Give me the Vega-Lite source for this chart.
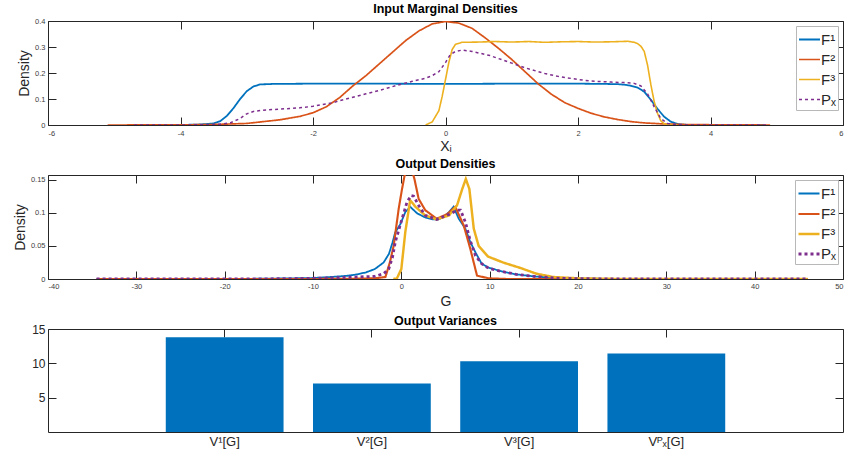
{
  "$schema": "https://vega.github.io/schema/vega-lite/v6.json",
  "padding": {"left": 13, "top": 2, "right": 14, "bottom": 5},
  "background": "white",
  "config": {
    "view": {"stroke": null},
    "font": "Liberation Sans",
    "title": {"font": "Liberation Sans", "fontSize": 12.5, "fontWeight": "bold", "color": "#000000", "offset": 4},
    "axis": {
      "grid": false, "domainColor": "#262626", "tickColor": "#262626", "labelColor": "#404040",
      "titleColor": "#262626", "labelFont": "Liberation Sans", "titleFont": "Liberation Sans",
      "titleFontWeight": "normal", "titleFontSize": 14, "labelFontSize": 7.5,
      "tickSize": -8, "labelPadding": 11, "domainWidth": 1, "tickWidth": 1
    },
    "legend": {
      "orient": "top-right", "offset": 5, "title": null, "symbolType": "stroke", "symbolSize": 441,
      "labelFontSize": 15, "labelFont": "Liberation Sans", "labelColor": "#262626",
      "fillColor": "white", "strokeColor": "#b8b8b8", "padding": 2, "rowPadding": 0, "labelOffset": 0
    }
  },
  "datasets": {
    "top": [
      {"s":"F¹","x":-4.7,"y":0},{"s":"F¹","x":-4.0,"y":0},{"s":"F¹","x":-3.7,"y":0.002},{"s":"F¹","x":-3.5,"y":0.006},{"s":"F¹","x":-3.4,"y":0.015},{"s":"F¹","x":-3.3,"y":0.035},{"s":"F¹","x":-3.2,"y":0.065},{"s":"F¹","x":-3.1,"y":0.1},{"s":"F¹","x":-3.0,"y":0.13},{"s":"F¹","x":-2.9,"y":0.148},{"s":"F¹","x":-2.8,"y":0.156},{"s":"F¹","x":-2.6,"y":0.158},{"s":"F¹","x":-2.0,"y":0.159},{"s":"F¹","x":-1.0,"y":0.159},{"s":"F¹","x":0,"y":0.158},{"s":"F¹","x":1.0,"y":0.159},{"s":"F¹","x":2.0,"y":0.159},{"s":"F¹","x":2.4,"y":0.158},{"s":"F¹","x":2.6,"y":0.157},{"s":"F¹","x":2.7,"y":0.155},{"s":"F¹","x":2.8,"y":0.151},{"s":"F¹","x":2.9,"y":0.144},{"s":"F¹","x":3.0,"y":0.128},{"s":"F¹","x":3.1,"y":0.097},{"s":"F¹","x":3.2,"y":0.062},{"s":"F¹","x":3.3,"y":0.032},{"s":"F¹","x":3.4,"y":0.013},{"s":"F¹","x":3.5,"y":0.004},{"s":"F¹","x":3.6,"y":0.001},{"s":"F¹","x":3.8,"y":0},{"s":"F¹","x":4.8,"y":0},
      {"s":"F²","x":-5.1,"y":0},{"s":"F²","x":-4.5,"y":0.0002},{"s":"F²","x":-4.0,"y":0.0005},{"s":"F²","x":-3.5,"y":0.002},{"s":"F²","x":-3.0,"y":0.006},{"s":"F²","x":-2.5,"y":0.02},{"s":"F²","x":-2.2,"y":0.033},{"s":"F²","x":-2.0,"y":0.047},{"s":"F²","x":-1.8,"y":0.07},{"s":"F²","x":-1.6,"y":0.105},{"s":"F²","x":-1.4,"y":0.15},{"s":"F²","x":-1.2,"y":0.19},{"s":"F²","x":-1.0,"y":0.235},{"s":"F²","x":-0.8,"y":0.28},{"s":"F²","x":-0.6,"y":0.325},{"s":"F²","x":-0.4,"y":0.362},{"s":"F²","x":-0.2,"y":0.389},{"s":"F²","x":0,"y":0.398},{"s":"F²","x":0.2,"y":0.392},{"s":"F²","x":0.4,"y":0.372},{"s":"F²","x":0.6,"y":0.335},{"s":"F²","x":0.8,"y":0.295},{"s":"F²","x":1.0,"y":0.252},{"s":"F²","x":1.2,"y":0.205},{"s":"F²","x":1.4,"y":0.158},{"s":"F²","x":1.6,"y":0.118},{"s":"F²","x":1.8,"y":0.086},{"s":"F²","x":2.0,"y":0.064},{"s":"F²","x":2.2,"y":0.045},{"s":"F²","x":2.4,"y":0.031},{"s":"F²","x":2.6,"y":0.021},{"s":"F²","x":2.8,"y":0.013},{"s":"F²","x":3.0,"y":0.008},{"s":"F²","x":3.3,"y":0.004},{"s":"F²","x":3.6,"y":0.002},{"s":"F²","x":4.0,"y":0.001},{"s":"F²","x":4.5,"y":0.0002},{"s":"F²","x":4.9,"y":0},
      {"s":"F³","x":-0.3,"y":0},{"s":"F³","x":-0.2,"y":0.012},{"s":"F³","x":-0.1,"y":0.055},{"s":"F³","x":-0.05,"y":0.11},{"s":"F³","x":0,"y":0.175},{"s":"F³","x":0.05,"y":0.24},{"s":"F³","x":0.1,"y":0.29},{"s":"F³","x":0.15,"y":0.31},{"s":"F³","x":0.25,"y":0.318},{"s":"F³","x":0.5,"y":0.319},{"s":"F³","x":0.75,"y":0.321},{"s":"F³","x":1.0,"y":0.319},{"s":"F³","x":1.25,"y":0.321},{"s":"F³","x":1.5,"y":0.318},{"s":"F³","x":1.75,"y":0.32},{"s":"F³","x":2.0,"y":0.321},{"s":"F³","x":2.25,"y":0.319},{"s":"F³","x":2.5,"y":0.32},{"s":"F³","x":2.75,"y":0.322},{"s":"F³","x":2.85,"y":0.318},{"s":"F³","x":2.9,"y":0.313},{"s":"F³","x":2.95,"y":0.303},{"s":"F³","x":3.0,"y":0.283},{"s":"F³","x":3.05,"y":0.23},{"s":"F³","x":3.1,"y":0.155},{"s":"F³","x":3.15,"y":0.09},{"s":"F³","x":3.2,"y":0.045},{"s":"F³","x":3.25,"y":0.016},{"s":"F³","x":3.3,"y":0.005},{"s":"F³","x":3.4,"y":0},{"s":"F³","x":3.5,"y":0},
      {"s":"Pₓ","x":-4.7,"y":0},{"s":"Pₓ","x":-4.0,"y":0},{"s":"Pₓ","x":-3.6,"y":0.001},{"s":"Pₓ","x":-3.4,"y":0.003},{"s":"Pₓ","x":-3.25,"y":0.008},{"s":"Pₓ","x":-3.1,"y":0.025},{"s":"Pₓ","x":-3.0,"y":0.043},{"s":"Pₓ","x":-2.9,"y":0.052},{"s":"Pₓ","x":-2.8,"y":0.056},{"s":"Pₓ","x":-2.7,"y":0.058},{"s":"Pₓ","x":-2.5,"y":0.061},{"s":"Pₓ","x":-2.2,"y":0.066},{"s":"Pₓ","x":-2.0,"y":0.072},{"s":"Pₓ","x":-1.7,"y":0.086},{"s":"Pₓ","x":-1.5,"y":0.1},{"s":"Pₓ","x":-1.2,"y":0.12},{"s":"Pₓ","x":-1.0,"y":0.133},{"s":"Pₓ","x":-0.7,"y":0.155},{"s":"Pₓ","x":-0.5,"y":0.168},{"s":"Pₓ","x":-0.3,"y":0.18},{"s":"Pₓ","x":-0.2,"y":0.19},{"s":"Pₓ","x":-0.1,"y":0.205},{"s":"Pₓ","x":0,"y":0.24},{"s":"Pₓ","x":0.07,"y":0.27},{"s":"Pₓ","x":0.15,"y":0.283},{"s":"Pₓ","x":0.25,"y":0.288},{"s":"Pₓ","x":0.4,"y":0.283},{"s":"Pₓ","x":0.67,"y":0.267},{"s":"Pₓ","x":1.0,"y":0.238},{"s":"Pₓ","x":1.2,"y":0.22},{"s":"Pₓ","x":1.5,"y":0.198},{"s":"Pₓ","x":1.7,"y":0.187},{"s":"Pₓ","x":2.0,"y":0.175},{"s":"Pₓ","x":2.2,"y":0.169},{"s":"Pₓ","x":2.5,"y":0.165},{"s":"Pₓ","x":2.7,"y":0.163},{"s":"Pₓ","x":2.85,"y":0.16},{"s":"Pₓ","x":2.95,"y":0.15},{"s":"Pₓ","x":3.05,"y":0.12},{"s":"Pₓ","x":3.15,"y":0.07},{"s":"Pₓ","x":3.25,"y":0.025},{"s":"Pₓ","x":3.35,"y":0.006},{"s":"Pₓ","x":3.5,"y":0.001},{"s":"Pₓ","x":3.7,"y":0},{"s":"Pₓ","x":4.87,"y":0}
    ],
    "mid": [
      {"s":"F¹","x":-34.5,"y":0},{"s":"F¹","x":-20,"y":0},{"s":"F¹","x":-15,"y":0.0005},{"s":"F¹","x":-10,"y":0.0015},{"s":"F¹","x":-8,"y":0.003},{"s":"F¹","x":-6,"y":0.005},{"s":"F¹","x":-5,"y":0.007},{"s":"F¹","x":-4,"y":0.01},{"s":"F¹","x":-3,"y":0.015},{"s":"F¹","x":-2,"y":0.025},{"s":"F¹","x":-1.4,"y":0.038},{"s":"F¹","x":-1,"y":0.055},{"s":"F¹","x":-0.7,"y":0.07},{"s":"F¹","x":-0.1,"y":0.083},{"s":"F¹","x":0.45,"y":0.101},{"s":"F¹","x":1.0,"y":0.109},{"s":"F¹","x":1.8,"y":0.099},{"s":"F¹","x":2.7,"y":0.093},{"s":"F¹","x":3.5,"y":0.09},{"s":"F¹","x":4.2,"y":0.09},{"s":"F¹","x":4.8,"y":0.094},{"s":"F¹","x":5.4,"y":0.101},{"s":"F¹","x":5.9,"y":0.109},{"s":"F¹","x":6.2,"y":0.1},{"s":"F¹","x":6.5,"y":0.091},{"s":"F¹","x":7.25,"y":0.076},{"s":"F¹","x":7.8,"y":0.056},{"s":"F¹","x":8.4,"y":0.04},{"s":"F¹","x":9.1,"y":0.023},{"s":"F¹","x":9.9,"y":0.017},{"s":"F¹","x":11.5,"y":0.011},{"s":"F¹","x":13,"y":0.007},{"s":"F¹","x":15,"y":0.004},{"s":"F¹","x":17,"y":0.002},{"s":"F¹","x":20,"y":0.0007},{"s":"F¹","x":25,"y":0},{"s":"F¹","x":46,"y":0},
      {"s":"F²","x":-34.5,"y":0},{"s":"F²","x":-10,"y":0},{"s":"F²","x":-5,"y":0.0005},{"s":"F²","x":-3,"y":0.001},{"s":"F²","x":-1.8,"y":0.003},{"s":"F²","x":-1.3,"y":0.025},{"s":"F²","x":-0.87,"y":0.05},{"s":"F²","x":-0.3,"y":0.106},{"s":"F²","x":0.08,"y":0.136},{"s":"F²","x":0.35,"y":0.155},{"s":"F²","x":0.8,"y":0.172},{"s":"F²","x":1.2,"y":0.165},{"s":"F²","x":1.5,"y":0.15},{"s":"F²","x":1.96,"y":0.121},{"s":"F²","x":2.7,"y":0.104},{"s":"F²","x":4.0,"y":0.091},{"s":"F²","x":5.2,"y":0.098},{"s":"F²","x":6.1,"y":0.109},{"s":"F²","x":7.06,"y":0.081},{"s":"F²","x":7.8,"y":0.046},{"s":"F²","x":8.57,"y":0.005},{"s":"F²","x":9.9,"y":0.001},{"s":"F²","x":12,"y":0},{"s":"F²","x":46,"y":0},
      {"s":"F³","x":-0.9,"y":0},{"s":"F³","x":-0.5,"y":0.001},{"s":"F³","x":0,"y":0.015},{"s":"F³","x":0.45,"y":0.071},{"s":"F³","x":1.0,"y":0.119},{"s":"F³","x":1.6,"y":0.109},{"s":"F³","x":2.7,"y":0.096},{"s":"F³","x":4.0,"y":0.09},{"s":"F³","x":5.4,"y":0.096},{"s":"F³","x":6.3,"y":0.111},{"s":"F³","x":6.9,"y":0.136},{"s":"F³","x":7.3,"y":0.151},{"s":"F³","x":7.7,"y":0.136},{"s":"F³","x":8.2,"y":0.076},{"s":"F³","x":8.75,"y":0.05},{"s":"F³","x":9.8,"y":0.034},{"s":"F³","x":11.5,"y":0.025},{"s":"F³","x":13.4,"y":0.017},{"s":"F³","x":15.3,"y":0.008},{"s":"F³","x":17.2,"y":0.003},{"s":"F³","x":20,"y":0.001},{"s":"F³","x":25,"y":0},{"s":"F³","x":46,"y":0},
      {"s":"Pₓ","x":-34.5,"y":0},{"s":"Pₓ","x":-15,"y":0.0003},{"s":"Pₓ","x":-10,"y":0.001},{"s":"Pₓ","x":-7,"y":0.002},{"s":"Pₓ","x":-5,"y":0.003},{"s":"Pₓ","x":-3,"y":0.004},{"s":"Pₓ","x":-2,"y":0.008},{"s":"Pₓ","x":-1.43,"y":0.015},{"s":"Pₓ","x":-1.0,"y":0.033},{"s":"Pₓ","x":-0.68,"y":0.056},{"s":"Pₓ","x":0.08,"y":0.091},{"s":"Pₓ","x":0.64,"y":0.116},{"s":"Pₓ","x":1.1,"y":0.126},{"s":"Pₓ","x":1.4,"y":0.125},{"s":"Pₓ","x":1.96,"y":0.111},{"s":"Pₓ","x":2.7,"y":0.096},{"s":"Pₓ","x":4.0,"y":0.09},{"s":"Pₓ","x":5.5,"y":0.098},{"s":"Pₓ","x":6.3,"y":0.104},{"s":"Pₓ","x":6.7,"y":0.104},{"s":"Pₓ","x":7.25,"y":0.086},{"s":"Pₓ","x":7.8,"y":0.058},{"s":"Pₓ","x":8.4,"y":0.035},{"s":"Pₓ","x":9.1,"y":0.023},{"s":"Pₓ","x":9.9,"y":0.016},{"s":"Pₓ","x":11.5,"y":0.011},{"s":"Pₓ","x":13,"y":0.007},{"s":"Pₓ","x":15,"y":0.004},{"s":"Pₓ","x":18,"y":0.001},{"s":"Pₓ","x":20,"y":0.0005},{"s":"Pₓ","x":25,"y":0},{"s":"Pₓ","x":46,"y":0}
    ],
    "bars": [
      {"v":"V¹[G]","var":13.8},{"v":"V²[G]","var":7.05},{"v":"V³[G]","var":10.3},{"v":"Vᴾₓ[G]","var":11.45}
    ]
  },
  "spacing": 50,
  "bounds": "flush",
  "resolve": {
    "scale": {"x": "independent", "y": "independent", "color": "independent", "strokeDash": "independent", "strokeWidth": "independent"},
    "legend": {"color": "independent", "strokeDash": "independent", "strokeWidth": "independent"}
  },
  "vconcat": [
    {
      "width": 795, "height": 104,
      "title": {"text": "Input Marginal Densities", "offset": 2},
      "data": {"name": "top"},
      "layer": [
        {
          "mark": {"type": "line", "clip": true},
          "encoding": {
            "x": {"field": "x", "type": "quantitative", "scale": {"domain": [-6, 6], "nice": false, "zero": false},
                  "axis": {"orient": "bottom", "values": [-6, -4, -2, 0, 2, 4, 6], "labelExpr": "datum.value + ''", "labelPadding": 12, "title": "Xᵢ", "titlePadding": 3}},
            "y": {"field": "y", "type": "quantitative", "scale": {"domain": [0, 0.4], "nice": false},
                  "axis": {"orient": "left", "values": [0, 0.1, 0.2, 0.3, 0.4], "labelExpr": "datum.value + ''", "title": "Density", "titlePadding": 3}},
            "color": {"field": "s", "type": "nominal", "scale": {"domain": ["F¹", "F²", "F³", "Pₓ"], "range": ["#0072BD", "#D95319", "#EDB120", "#7E2F8E"]}},
            "strokeDash": {"field": "s", "type": "nominal", "scale": {"domain": ["F¹", "F²", "F³", "Pₓ"], "range": [[1, 0], [1, 0], [1, 0], [3, 3]]}},
            "strokeWidth": {"field": "s", "type": "nominal", "scale": {"domain": ["F¹", "F²", "F³", "Pₓ"], "range": [1.8, 1.5, 1.5, 3]}}
          }
        },
        {
          "mark": {"type": "point", "opacity": 0},
          "encoding": {
            "x": {"field": "x", "type": "quantitative", "scale": {"domain": [-6, 6], "nice": false, "zero": false},
                  "axis": {"orient": "top", "values": [-6, -4, -2, 0, 2, 4, 6], "labels": false, "labelPadding": 0, "title": null}},
            "y": {"field": "y", "type": "quantitative", "scale": {"domain": [0, 0.4], "nice": false},
                  "axis": {"orient": "right", "values": [0, 0.1, 0.2, 0.3, 0.4], "labels": false, "labelPadding": 0, "title": null}}
          }
        }
      ]
    },
    {
      "width": 795, "height": 104,
      "title": {"text": "Output Densities", "offset": -8},
      "data": {"name": "mid"},
      "layer": [
        {
          "mark": {"type": "line", "clip": true},
          "encoding": {
            "x": {"field": "x", "type": "quantitative", "scale": {"domain": [-40, 50], "nice": false, "zero": false},
                  "axis": {"orient": "bottom", "values": [-40, -30, -20, -10, 0, 10, 20, 30, 40, 50], "labelExpr": "datum.value + ''", "title": "G", "titlePadding": 5}},
            "y": {"field": "y", "type": "quantitative", "scale": {"domain": [0, 0.157], "nice": false},
                  "axis": {"orient": "left", "values": [0, 0.05, 0.1, 0.15], "labelExpr": "datum.value + ''", "title": "Density", "titlePadding": 3}},
            "color": {"field": "s", "type": "nominal", "scale": {"domain": ["F¹", "F²", "F³", "Pₓ"], "range": ["#0072BD", "#D95319", "#EDB120", "#7E2F8E"]}},
            "strokeDash": {"field": "s", "type": "nominal", "scale": {"domain": ["F¹", "F²", "F³", "Pₓ"], "range": [[1, 0], [1, 0], [1, 0], [3, 3]]}},
            "strokeWidth": {"field": "s", "type": "nominal", "scale": {"domain": ["F¹", "F²", "F³", "Pₓ"], "range": [1.8, 2.8, 2.8, 3]}}
          }
        },
        {
          "mark": {"type": "point", "opacity": 0},
          "encoding": {
            "x": {"field": "x", "type": "quantitative", "scale": {"domain": [-40, 50], "nice": false, "zero": false},
                  "axis": {"orient": "top", "values": [-40, -30, -20, -10, 0, 10, 20, 30, 40, 50], "labels": false, "labelPadding": 0, "title": null}},
            "y": {"field": "y", "type": "quantitative", "scale": {"domain": [0, 0.157], "nice": false},
                  "axis": {"orient": "right", "values": [0, 0.05, 0.1, 0.15], "labels": false, "labelPadding": 0, "title": null}}
          }
        }
      ]
    },
    {
      "width": 795, "height": 103,
      "title": {"text": "Output Variances", "offset": -4},
      "data": {"name": "bars"},
      "layer": [
        {
          "mark": {"type": "bar", "color": "#0072BD"},
          "encoding": {
            "x": {"field": "v", "type": "nominal", "sort": null, "scale": {"paddingInner": 0.2, "paddingOuter": 0.8},
                  "axis": {"orient": "bottom", "labelAngle": 0, "title": null, "labelFontSize": 13, "labelColor": "#262626"}},
            "y": {"field": "var", "type": "quantitative", "scale": {"domain": [0, 15], "nice": false},
                  "axis": {"orient": "left", "values": [5, 10, 15], "title": null, "labelFontSize": 12, "labelColor": "#262626"}}
          }
        },
        {
          "mark": {"type": "point", "opacity": 0},
          "encoding": {
            "x": {"field": "v", "type": "nominal", "sort": null, "scale": {"paddingInner": 0.2, "paddingOuter": 0.8},
                  "axis": {"orient": "top", "labels": false, "labelPadding": 0, "title": null}},
            "y": {"field": "var", "type": "quantitative", "scale": {"domain": [0, 15], "nice": false},
                  "axis": {"orient": "right", "values": [5, 10, 15], "labels": false, "labelPadding": 0, "title": null}}
          }
        }
      ]
    }
  ]
}
